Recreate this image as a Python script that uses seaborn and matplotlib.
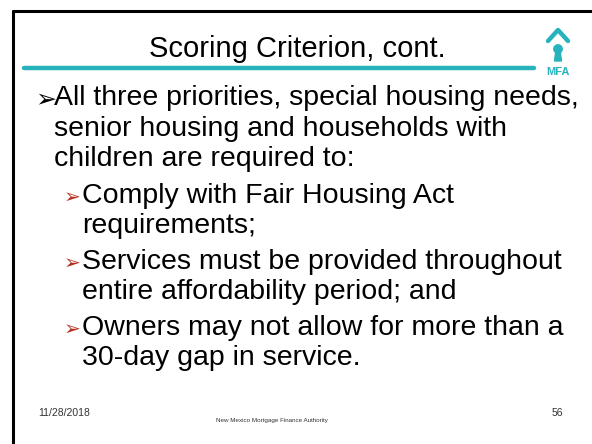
import matplotlib
matplotlib.use("Agg")
import matplotlib.pyplot as plt
import seaborn as sns
from matplotlib.patches import Circle, Polygon

sns.set_theme(style="white")
plt.rcParams['font.family'] = ['Liberation Sans', 'DejaVu Sans']

# slide content
title = "Scoring Criterion, cont."
bullet_lines = [
    "All three priorities, special housing needs,",
    "senior housing and households with",
    "children are required to:",
]
sub_bullets = [
    ["Comply with Fair Housing Act", "requirements;"],
    ["Services must be provided throughout", "entire affordability period; and"],
    ["Owners may not allow for more than a", "30-day gap in service."],
]
footer_date = "11/28/2018"
footer_org = "New Mexico Mortgage Finance Authority"
slide_number = "56"

teal = "#27b3bd"
arrow_red = "#b5301f"

fig = plt.figure(figsize=(5.92, 4.44), dpi=100)
ax = fig.add_axes([0, 0, 1, 1])
ax.set_xlim(0, 592)
ax.set_ylim(444, 0)
ax.axis("off")

# frame on top and left
ax.plot([12, 600], [11, 11], color="black", lw=2.2, solid_capstyle="butt")
ax.plot([12.5, 12.5], [10, 450], color="black", lw=2.2, solid_capstyle="butt")

# title and rule
ax.text(297, 49, title, fontsize=21, ha="center", va="center", color="black")
ax.plot([24, 534], [68, 68], color=teal, lw=3.2, solid_capstyle="round")

# logo
ax.plot([548, 558, 568], [41, 30, 41], color=teal, lw=3.2, solid_capstyle="round")
ax.add_patch(Circle((558, 49), 4.2, color=teal))
ax.add_patch(Polygon([[556, 50], [560, 50], [561.5, 61], [554.5, 61]], color=teal))
ax.text(558, 72, "MFA", fontsize=8, fontweight="bold", color=teal,
        ha="center", va="center")

# first-level bullet
y = 98
ax.text(35, y + 1, "\u27a2", fontsize=18, ha="left", va="center", color="black",
        family=['DejaVu Sans'])
for line in bullet_lines:
    ax.text(54, y, line, fontsize=20.5, ha="left", va="center", color="black")
    y += 30.5

# second-level bullets
y = 196
for group in sub_bullets:
    ax.text(64, y + 1, "\u27a2", fontsize=14.5, ha="left", va="center", color=arrow_red,
            family=['DejaVu Sans'])
    for line in group:
        ax.text(82, y, line, fontsize=20.5, ha="left", va="center", color="black")
        y += 29.5
    y += 7

# footer
ax.text(38, 413, footer_date, fontsize=7.5, ha="left", va="center", color="#333333")
ax.text(272, 420, footer_org, fontsize=4.5, ha="center", va="center", color="#333333")
ax.text(563, 413, slide_number, fontsize=7.5, ha="right", va="center", color="#333333")

fig.savefig("out.png", dpi=100)
